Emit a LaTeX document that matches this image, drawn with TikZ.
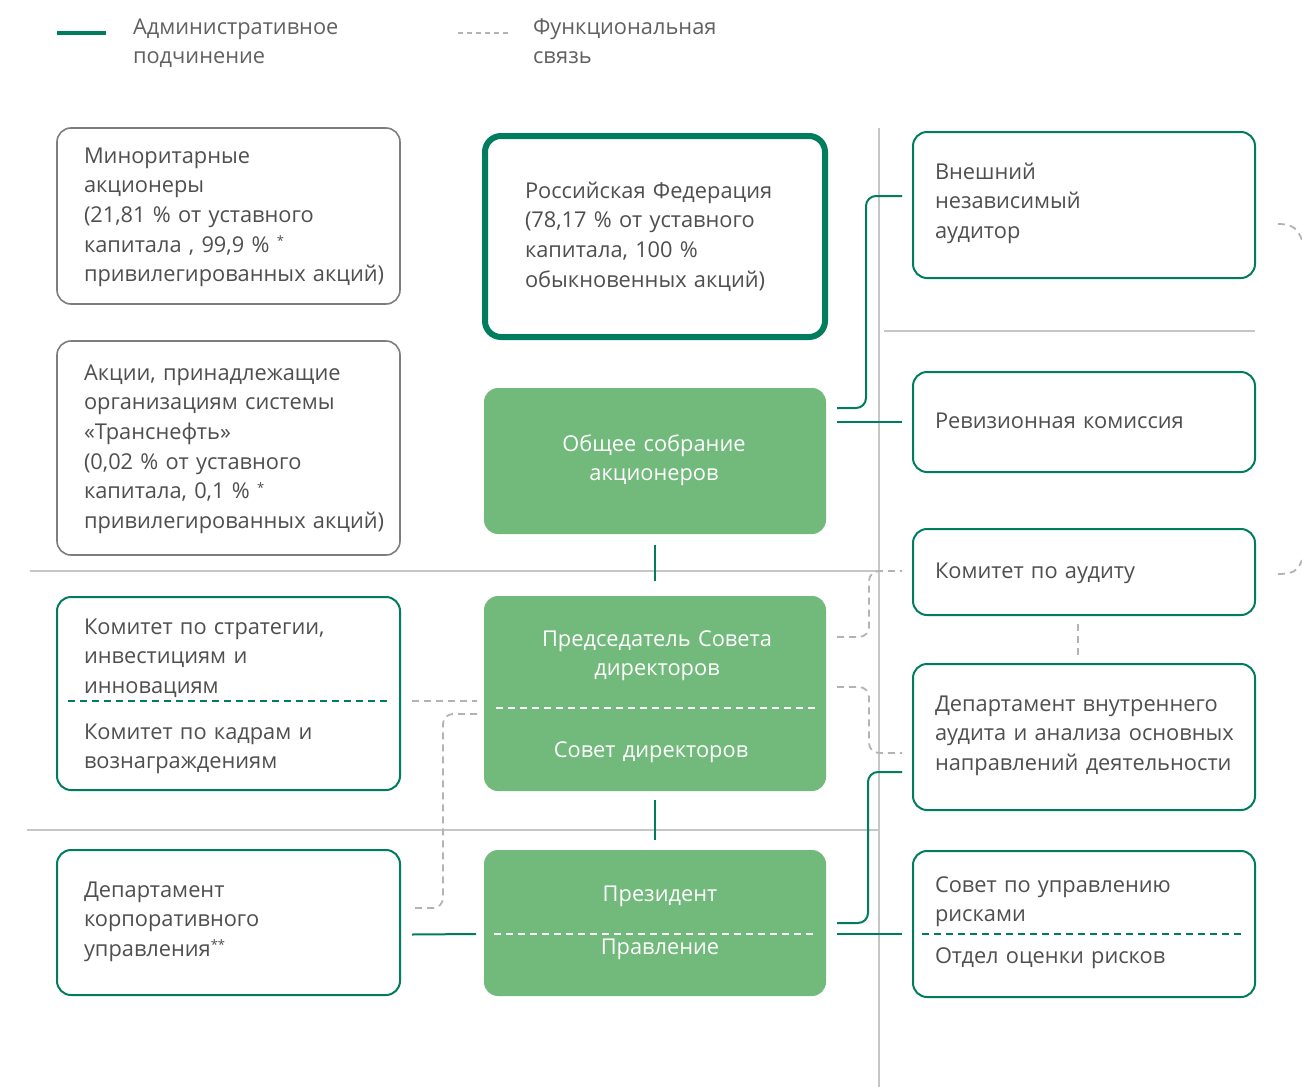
\documentclass[tikz,border=0pt]{standalone}
\usepackage{fontspec}
\setmainfont{Open Sans}
\usetikzlibrary{calc}
\definecolor{adm}{HTML}{007D5E}
\definecolor{boxgreen}{HTML}{72BA7B}
\definecolor{txtgray}{HTML}{4F4F4F}
\definecolor{dashgray}{HTML}{B3B3B3}
\definecolor{sepgray}{HTML}{C6C6C6}
\definecolor{bordergray}{HTML}{7D7D7D}
\newcommand{\fnast}{\raisebox{0.55ex}{\fontsize{13}{13}\selectfont *}}
\begin{document}
\begin{tikzpicture}[x=1pt,y=-1pt,
 every node/.style={inner sep=0pt, outer sep=0pt},
 outlinebox/.style={draw=adm, line width=2pt, rounded corners=14pt, anchor=north west},
 graybox/.style={draw=bordergray, line width=1.6pt, rounded corners=14pt, anchor=north west},
 mainbox/.style={draw=adm, line width=6pt, rounded corners=16pt, anchor=north west},
 fillbox/.style={fill=boxgreen, rounded corners=14pt, anchor=north west},
 ltxt/.style={anchor=base west, text width=330pt, align=left, text=txtgray, font=\fontsize{21.8}{29.7}\selectfont},
 ctxt/.style={anchor=base, text width=330pt, align=center, text=white, font=\fontsize{21.8}{29.7}\selectfont},
 admin/.style={draw=adm, line width=2pt, rounded corners=10pt},
 func/.style={draw=dashgray, line width=1.8pt, dash pattern=on 7pt off 5pt, rounded corners=10pt},
 whitedash/.style={draw=white, line width=1.6pt, dash pattern=on 7pt off 5pt},
 greendash/.style={draw=adm, line width=1.6pt, dash pattern=on 7pt off 5pt},
 sep/.style={draw=sepgray, line width=1.5pt},
]
\useasboundingbox (0,0) rectangle (1302,1087);
\fill[white] (0,0) rectangle (1302,1087);

% separators
\draw[sep] (879,128) -- (879,1087);
\draw[sep] (30,571) -- (879,571);
\draw[sep] (27,830) -- (879,830);
\draw[sep] (884,331) -- (1255,331);

% legend
\coordinate (la1) at (57,33); \coordinate (la2) at (106,33);
\draw[admin, line width=4pt] (la1) -- (la2);
\node[ltxt, text=txtgray!90] (legA) at (133,34) {Административное\\подчинение};
\coordinate (lf1) at (458,33); \coordinate (lf2) at (508,33);
\draw[func, dash pattern=on 5pt off 4pt] (lf1) -- (lf2);
\node[ltxt, text=txtgray!90] (legF) at (533,34) {Функциональная\\связь};

% boxes
\node[graybox, minimum width=343pt, minimum height=176pt] (min) at (57,128) {};
\node[graybox, minimum width=343pt, minimum height=214pt] (akc) at (57,341) {};
\node[mainbox, minimum width=340pt, minimum height=201pt] (rf) at (485,136) {};
\node[fillbox, minimum width=342pt, minimum height=146pt] (ogs) at (484,388) {};
\node[fillbox, minimum width=342pt, minimum height=195pt] (sov) at (484,596) {};
\node[fillbox, minimum width=342pt, minimum height=146pt] (pres) at (484,850) {};
\node[outlinebox, minimum width=342pt, minimum height=146pt] (ext) at (913,132) {};
\node[outlinebox, minimum width=342pt, minimum height=100pt] (rev) at (913,372) {};
\node[outlinebox, minimum width=342pt, minimum height=86pt] (kau) at (913,529) {};
\node[outlinebox, minimum width=342pt, minimum height=146pt] (dva) at (913,664) {};
\node[outlinebox, minimum width=342pt, minimum height=146pt] (srisk) at (913,851) {};
\node[outlinebox, minimum width=343pt, minimum height=193pt] (kstr) at (57,597) {};
\node[outlinebox, minimum width=343pt, minimum height=145pt] (dku) at (57,850) {};

% inner dashed dividers
\draw[whitedash] ($(sov.north west)+(12,112)$) -- ($(sov.north east)+(-11,112)$);
\draw[whitedash] ($(pres.north west)+(10,84)$) -- ($(pres.north east)+(-11,84)$);
\draw[greendash] ($(srisk.north west)+(9,83)$) -- ($(srisk.north east)+(-13,83)$);
\draw[greendash] ($(kstr.north west)+(11,104)$) -- ($(kstr.north east)+(-12,104)$);

% texts
\node[ltxt] (minT) at (84,163) {Миноритарные\\акционеры\\(21,81 \% от уставного\\капитала , 99,9 \% \fnast\\привилегированных акций)};
\node[ltxt] (akcT) at (84,380) {Акции, принадлежащие\\организациям системы\\«Транснефть»\\(0,02 \% от уставного\\капитала, 0,1 \% \fnast\\привилегированных акций)};
\node[ltxt] (rfT) at (525,198) {Российская Федерация\\(78,17 \% от уставного\\капитала, 100 \%\\обыкновенных акций)};
\node[ctxt] (ogsT) at (654,451) {Общее собрание\\акционеров};
\node[ctxt] (sovT1) at (657,646) {Председатель Совета\\директоров};
\node[ctxt] (sovT2) at (651,757) {Совет директоров};
\node[ctxt] (presT1) at (660,901) {Президент};
\node[ctxt] (presT2) at (660,954) {Правление};
\node[ltxt] (extT) at (935,179) {Внешний\\независимый\\аудитор};
\node[ltxt] (revT) at (935,428) {Ревизионная комиссия};
\node[ltxt] (kauT) at (935,578) {Комитет по аудиту};
\node[ltxt] (dvaT) at (935,711) {Департамент внутреннего\\аудита и анализа основных\\направлений деятельности};
\node[ltxt] (sriskT1) at (935,892) {Совет по управлению\\рисками};
\node[ltxt] (sriskT2) at (935,963) {Отдел оценки рисков};
\node[ltxt] (kstrT1) at (84,634) {Комитет по стратегии,\\инвестициям и\\инновациям};
\node[ltxt] (kstrT2) at (84,739) {Комитет по кадрам и\\вознаграждениям};
\node[ltxt] (dkuT) at (84,897) {Департамент\\корпоративного\\управления\raisebox{0.55ex}{\fontsize{13}{13}\selectfont **}};

% administrative connectors
\draw[admin] ($(ogs.south)+(0,11)$) -- ($(sov.north)+(0,-15)$);
\draw[admin] ($(sov.south)+(0,9)$) -- ($(pres.north)+(0,-10)$);
\draw[admin] ($(ogs.east |- rev.west)+(11,0)$) -- ($(rev.west)+(-11,0)$);
\draw[admin] ($(ogs.north east)+(11,20)$) -| ($(ext.north west)+(-47,64)$) -- ($(ext.north west)+(-11,64)$);
\draw[admin] ($(pres.north east)+(11,73)$) -| ($(dva.north west)+(-45,108)$) -- ($(dva.north west)+(-11,108)$);
\draw[admin] ($(pres.east)+(11,11)$) -- ($(srisk.west)+(-11,10)$);
\draw[admin] ($(dku.east)+(12,12)$) -- ($(pres.west)+(-8,11)$);

% functional connectors
\draw[func] ($(sov.north east)+(11,41)$) -| ($(kau.north west)+(-44,42)$) -- ($(kau.north west)+(-11,42)$);
\draw[func] ($(sov.north east)+(11,91)$) -| ($(dva.north west)+(-44,89)$) -- ($(dva.north west)+(-11,89)$);
\draw[func] ($(kau.south)+(-6,9)$) -- ($(dva.north)+(-6,-9)$);
\draw[func] ($(kstr.east)+(12,7.5)$) -- ($(sov.west)+(-7,7.5)$);
\draw[func] ($(sov.west)+(-7,20.5)$) -| ($(dku.east)+(43,-14.5)$) -- ($(dku.east)+(12,-14.5)$);
\coordinate (rt1) at (1302,240);
\coordinate (rt2) at (1302,560);
\draw[func] ($(ext.east)+(23,19)$) .. controls +(16,0) and +(-4,-10) .. (rt1);
\draw[func] ($(kau.east)+(23,2)$) .. controls +(16,0) and +(-4,10) .. (rt2);
\end{tikzpicture}
\end{document}
